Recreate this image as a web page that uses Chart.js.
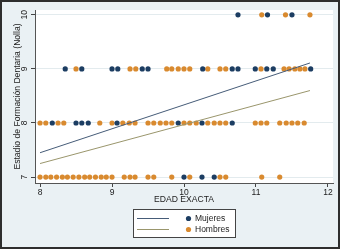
<!DOCTYPE html>
<html>
<head>
<meta charset="utf-8">
<script src="https://cdn.jsdelivr.net/npm/chart.js@4"></script>
<style>
  html, body { margin: 0; padding: 0; background: #ffffff; }
  #wrap { position: relative; width: 343px; height: 251px; }
  canvas { display: block; }
</style>
</head>
<body>
<div id="wrap"><canvas id="c" width="343" height="251"></canvas></div>
<script>
// ---- Data (edad exacta by estadio de Nolla) ----
const xTicks = [8, 9, 10, 11, 12];
const yTicks = [7, 8, 9, 10];

const mujeres10 = [10.75, 11.16, 11.50];
const mujeres9  = [8.35, 8.58, 9.00, 9.08, 9.42, 9.50, 10.26, 10.67, 10.75, 10.99, 11.15, 11.24, 11.76];
const mujeres8  = [8.17, 8.50, 8.58, 8.67, 9.07, 9.92, 10.25, 10.67];
const mujeres7  = [10.00, 10.25, 10.42];

const hombres10 = [11.08, 11.41, 11.75];
const hombres9  = [8.50, 9.25, 9.33, 9.76, 9.83, 9.92, 10.00, 10.08, 10.33, 10.50, 10.58, 11.07, 11.39, 11.46, 11.54, 11.61, 11.68];
const hombres8  = [8.00, 8.08, 8.25, 8.33, 8.83, 9.00, 9.15, 9.24, 9.32, 9.50, 9.58, 9.67, 9.75, 9.83, 10.00, 10.08, 10.17, 10.33, 10.42, 10.50, 10.58, 10.99, 11.07, 11.15, 11.33, 11.42, 11.50, 11.58, 11.67];
const hombres7  = [8.00, 8.08, 8.15, 8.23, 8.31, 8.38, 8.46, 8.54, 8.62, 8.69, 8.77, 8.85, 8.92, 9.00, 9.17, 9.25, 9.32, 9.50, 9.58, 9.83, 10.08, 10.50, 10.58, 11.08, 11.33];

const fitEdad     = [8.0, 11.75];
const mujeresFit  = [7.45, 9.11];
const hombresFit  = [7.25, 8.60];

const seriesNames = ['Mujeres', 'Hombres'];

// ---- build point tables ----
function pts(rows) {
  const out = [];
  rows.forEach(([stage, ages]) => ages.forEach(a => out.push({ x: a, y: stage })));
  return out;
}
const mujeresPts = pts([[7, mujeres7], [8, mujeres8], [9, mujeres9], [10, mujeres10]]);
const hombresPts = pts([[7, hombres7], [8, hombres8], [9, hombres9], [10, hombres10]]);
const line = (ys) => fitEdad.map((x, i) => ({ x, y: ys[i] }));

const NAVY = '#1c3d62';
const ORANGE = '#d98a2f';
const LINE1 = '#465c78';
const LINE2 = '#9a966c';
const BG = '#eaf1f4';
const FONT = "'Liberation Sans', Arial, sans-serif";

const frame = {
  id: 'frame',
  beforeDraw(chart) {
    const ctx = chart.ctx;
    const a = chart.chartArea;
    ctx.save();
    ctx.fillStyle = '#ffffff';
    ctx.fillRect(0, 0, chart.width, chart.height);
    ctx.fillStyle = BG;
    ctx.fillRect(1, 1, 338, 247);
    ctx.strokeStyle = '#2e2e2e';
    ctx.lineWidth = 2;
    ctx.strokeRect(1, 1, 338, 247);
    ctx.fillStyle = '#ffffff';
    ctx.fillRect(a.left, a.top, a.right - a.left, a.bottom - a.top);
    ctx.restore();
  },
  afterDraw(chart) {
    const ctx = chart.ctx;
    const ys = chart.scales.y;
    ctx.save();
    // rotated y tick labels
    ctx.fillStyle = '#222';
    ctx.font = '8.5px ' + FONT;
    ctx.textAlign = 'center';
    ctx.textBaseline = 'middle';
    ys.ticks.forEach(t => {
      const py = ys.getPixelForValue(t.value);
      ctx.save();
      ctx.translate(24.5, py);
      ctx.rotate(-Math.PI / 2);
      ctx.fillText(String(t.value), 0, 0);
      ctx.restore();
    });
    // legend
    const lx = 133, ly = 209, lw = 102, lh = 28;
    ctx.fillStyle = '#ffffff';
    ctx.fillRect(lx, ly, lw, lh);
    ctx.strokeStyle = '#444';
    ctx.lineWidth = 1;
    ctx.strokeRect(lx + 0.5, ly + 0.5, lw, lh);
    const rows = [
      { name: seriesNames[0], line: LINE1, dot: NAVY, y: 218.5 },
      { name: seriesNames[1], line: LINE2, dot: ORANGE, y: 229.5 }
    ];
    ctx.font = '8.5px ' + FONT;
    ctx.textAlign = 'left';
    rows.forEach(r => {
      ctx.strokeStyle = r.line;
      ctx.beginPath();
      ctx.moveTo(137, r.y);
      ctx.lineTo(169, r.y);
      ctx.stroke();
      ctx.fillStyle = r.dot;
      ctx.beginPath();
      ctx.arc(188.5, r.y, 2.6, 0, Math.PI * 2);
      ctx.fill();
      ctx.fillStyle = '#222';
      ctx.fillText(r.name, 195, r.y + 0.5);
    });
    ctx.restore();
  }
};

new Chart(document.getElementById('c'), {
  type: 'scatter',
  data: {
    datasets: [
      { type: 'line', label: seriesNames[0] + ' ajuste', data: line(mujeresFit), borderColor: LINE1, borderWidth: 1, pointRadius: 0, fill: false, order: 0 },
      { type: 'line', label: seriesNames[1] + ' ajuste', data: line(hombresFit), borderColor: LINE2, borderWidth: 1, pointRadius: 0, fill: false, order: 0 },
      { label: seriesNames[0], data: mujeresPts, backgroundColor: NAVY, borderWidth: 0, pointRadius: 2.6, order: 1 },
      { label: seriesNames[1], data: hombresPts, backgroundColor: ORANGE, borderWidth: 0, pointRadius: 2.6, order: 2 }
    ]
  },
  options: {
    responsive: false,
    animation: false,
    devicePixelRatio: 1,
    layout: { padding: { left: 0, right: 10, top: 10, bottom: 46 } },
    plugins: { legend: { display: false }, tooltip: { enabled: false } },
    scales: {
      x: {
        type: 'linear',
        min: 7.93, max: 12.07,
        afterBuildTicks: s => { s.ticks = xTicks.map(v => ({ value: v })); },
        afterFit: s => { s.height = 22; },
        grid: { drawOnChartArea: false, drawTicks: true, tickLength: 4, tickColor: '#444' },
        border: { display: true, color: '#555', width: 1 },
        ticks: { color: '#222', font: { family: FONT, size: 8.5 }, padding: 1, maxRotation: 0 },
        title: { display: true, text: 'EDAD EXACTA', color: '#222', font: { family: FONT, size: 8.6 }, padding: 0 }
      },
      y: {
        type: 'linear',
        min: 6.89, max: 10.09,
        afterBuildTicks: s => { s.ticks = yTicks.map(v => ({ value: v })); },
        afterFit: s => { s.width = 35; },
        grid: { color: '#e3ebee', drawTicks: true, tickLength: 4, tickColor: '#444' },
        border: { display: true, color: '#555', width: 1 },
        ticks: { display: false },
        title: { display: true, text: 'Estadio de Formación Dentaria (Nolla)', color: '#222', font: { family: FONT, size: 8.6 }, padding: { top: 12, bottom: 0 } }
      }
    }
  },
  plugins: [frame]
});
</script>
</body>
</html>
